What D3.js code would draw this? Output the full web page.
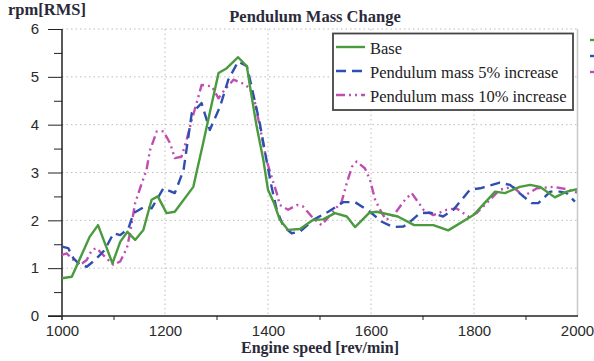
<!DOCTYPE html>
<html><head><meta charset="utf-8">
<script src="https://cdn.jsdelivr.net/npm/d3@7"></script>
<style>body{margin:0;background:#fff}svg{display:block}</style>
</head><body><svg id="c" width="594" height="361"></svg>
<script>
const seriesNames = ["Base", "Pendulum mass 5% increase", "Pendulum mass 10% increase"];
const baseRpm = [1000,1019,1054,1070,1098,1113,1127,1142,1158,1174,1186,1203,1219,1255,1274,1291,1304,1320,1342,1359,1365,1378,1391,1400,1412,1423,1439,1462,1488,1507,1530,1553,1569,1597,1611,1652,1684,1721,1750,1799,1841,1860,1889,1909,1928,1957,1980,2000];
const baseVal = [0.79,0.82,1.66,1.90,1.10,1.55,1.76,1.59,1.80,2.43,2.50,2.15,2.18,2.70,3.61,4.45,5.08,5.18,5.41,5.22,4.80,3.96,3.26,2.64,2.35,2.01,1.80,1.82,2.01,2.02,2.15,2.08,1.86,2.16,2.18,2.08,1.90,1.90,1.79,2.11,2.60,2.57,2.70,2.74,2.70,2.48,2.60,2.65];
const m5Rpm = [1000,1012,1022,1035,1048,1064,1083,1100,1113,1129,1139,1161,1174,1197,1219,1236,1252,1271,1287,1307,1323,1342,1359,1368,1384,1397,1407,1417,1430,1446,1462,1488,1517,1546,1569,1598,1621,1643,1663,1676,1695,1715,1740,1760,1773,1792,1812,1850,1870,1896,1912,1925,1948,1967,1980,1996];
const m5Val = [1.45,1.42,1.21,1.07,1.03,1.17,1.38,1.73,1.69,1.83,2.15,2.29,2.25,2.67,2.57,3.05,4.24,4.45,3.89,4.38,4.94,5.32,5.22,4.80,4.03,3.26,2.70,2.22,1.87,1.73,1.76,2.01,2.18,2.38,2.38,2.18,1.97,1.86,1.87,1.97,2.15,2.16,2.08,2.22,2.39,2.64,2.67,2.79,2.74,2.50,2.36,2.36,2.60,2.60,2.57,2.39];
const m10Rpm = [1000,1009,1025,1035,1048,1058,1067,1083,1100,1113,1126,1132,1142,1155,1164,1171,1184,1197,1210,1219,1232,1242,1252,1265,1271,1291,1304,1316,1333,1349,1365,1375,1388,1397,1407,1417,1423,1439,1456,1468,1488,1504,1524,1543,1553,1563,1572,1588,1598,1608,1621,1630,1647,1663,1679,1702,1721,1747,1766,1789,1805,1831,1850,1876,1896,1922,1954,1980,2000];
const m10Val = [1.28,1.31,1.14,1.07,1.17,1.38,1.42,1.24,1.07,1.14,1.42,1.73,2.36,2.78,3.05,3.47,3.86,3.86,3.61,3.30,3.33,3.68,4.10,4.59,4.83,4.80,4.55,4.73,4.94,4.87,4.76,4.45,3.75,3.26,2.91,2.57,2.32,2.22,2.32,2.29,2.04,1.90,2.15,2.39,2.78,3.12,3.23,3.09,2.85,2.43,2.15,2.01,2.15,2.39,2.57,2.22,2.11,2.22,2.25,2.08,2.15,2.43,2.64,2.70,2.50,2.67,2.70,2.65,2.58];
const xTicks = [1000,1200,1400,1600,1800,2000];
const xMinor = [1100,1300,1500,1700,1900];
const yTicks = [0,1,2,3,4,5,6];
const yMinor = [0.5,1.5,2.5,3.5,4.5,5.5];
const colors = ["#4a9a3e","#2f4fae","#c04eb2"];
const dashes = [null,"10,6","9,4,2,4,2,4"];

const svg = d3.select("#c");
const x = d3.scaleLinear().domain([1000,2000]).range([62,577]);
const y = d3.scaleLinear().domain([0,6]).range([316,29]);

// grid
svg.append("g").selectAll("line").data(yTicks.slice(1)).join("line")
  .attr("x1",62).attr("x2",577).attr("y1",d=>y(d)).attr("y2",d=>y(d))
  .attr("stroke","#bdbdbd").attr("stroke-width",1).attr("stroke-dasharray","1.5,3");
svg.append("g").selectAll("line").data(xTicks.slice(1,-1)).join("line")
  .attr("x1",d=>x(d)).attr("x2",d=>x(d)).attr("y1",29).attr("y2",316)
  .attr("stroke","#bdbdbd").attr("stroke-width",1).attr("stroke-dasharray","1.5,3");
svg.append("line").attr("x1",577.5).attr("x2",577.5).attr("y1",29).attr("y2",316)
  .attr("stroke","#c8c8c8").attr("stroke-width",1.5);

// axes
const yAxis = d3.axisLeft(y).tickValues(yTicks).tickSize(14).tickPadding(9).tickFormat(d3.format("d"));
const gy = svg.append("g").attr("transform","translate(62,0)").call(yAxis);
gy.selectAll(".tick line").attr("stroke","#222");
gy.select(".domain").attr("stroke","#222").attr("stroke-width",1.5).attr("d","M0,29V320");
const gyMinor = svg.append("g").attr("transform","translate(62,0)")
  .call(d3.axisLeft(y).tickValues(yMinor).tickSize(8).tickFormat(""));
gyMinor.select(".domain").remove();
gyMinor.selectAll(".tick line").attr("stroke","#222");

const xAxis = d3.axisBottom(x).tickValues(xTicks).tickSize(0).tickPadding(9).tickFormat(d3.format("d"));
const gx = svg.append("g").attr("transform","translate(0,316)").call(xAxis);
gx.select(".domain").attr("stroke","#222").attr("stroke-width",1.5).attr("d","M48,0H578");
const gxMinor = svg.append("g").attr("transform","translate(0,316)")
  .call(d3.axisBottom(x).tickValues(xMinor).tickSize(4).tickFormat(""));
gxMinor.select(".domain").remove();
gxMinor.selectAll(".tick line").attr("stroke","#222");

[gx,gy].forEach(g=>g.selectAll("text").attr("font-family","Liberation Sans, Arial, sans-serif")
  .attr("font-size",15).attr("fill","#2a2a2a"));

// lines
const data = [
  baseRpm.map((r,i)=>[r,baseVal[i]]),
  m5Rpm.map((r,i)=>[r,m5Val[i]]),
  m10Rpm.map((r,i)=>[r,m10Val[i]])
];
const line = d3.line().x(d=>x(d[0])).y(d=>y(d[1]));
[2,1,0].forEach(i=>{
  svg.append("path").datum(data[i]).attr("d",line).attr("fill","none")
    .attr("stroke",colors[i]).attr("stroke-width",2.4)
    .attr("stroke-linejoin","round")
    .attr("stroke-dasharray",dashes[i]);
});

// titles
const serif = "Liberation Serif, Times New Roman, serif";
svg.append("text").attr("x",315).attr("y",22).attr("text-anchor","middle")
  .attr("font-family",serif).attr("font-weight","bold").attr("font-size",16.5)
  .attr("fill","#2a2a3a").text("Pendulum Mass Change");
svg.append("text").attr("x",8).attr("y",15)
  .attr("font-family",serif).attr("font-weight","bold").attr("font-size",16.5)
  .attr("fill","#2a2a3a").text("rpm[RMS]");
svg.append("text").attr("x",320).attr("y",353).attr("text-anchor","middle")
  .attr("font-family",serif).attr("font-weight","bold").attr("font-size",16)
  .attr("fill","#2a2a3a").text("Engine speed [rev/min]");

// legend
svg.append("rect").attr("x",333).attr("y",33.5).attr("width",240).attr("height",76.5)
  .attr("fill","#fff").attr("stroke","#444").attr("stroke-width",1.8);
const lg = svg.append("g").selectAll("g").data(seriesNames).join("g")
  .attr("transform",(d,i)=>`translate(0,${47+i*24})`);
lg.append("line").attr("x1",336).attr("x2",365).attr("y1",0).attr("y2",0)
  .attr("stroke",(d,i)=>colors[i]).attr("stroke-width",2.4)
  .attr("stroke-dasharray",(d,i)=>dashes[i]);
lg.append("text").attr("x",370).attr("y",7).attr("font-family",serif).attr("font-size",16.5)
  .attr("fill","#222").text(d=>d);
// clipped second legend at right edge
svg.append("g").selectAll("line").data(seriesNames).join("line")
  .attr("x1",590).attr("x2",600).attr("y1",(d,i)=>40+i*16).attr("y2",(d,i)=>40+i*16)
  .attr("stroke",(d,i)=>colors[i]).attr("stroke-width",2.4);
</script></body></html>
